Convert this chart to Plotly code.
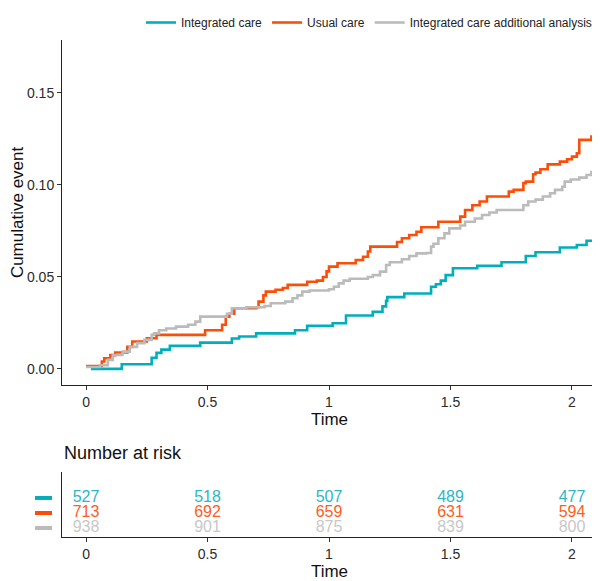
import plotly.graph_objects as go

# step curves (time in years, cumulative incidence)
ic_time = [0.02, 0.147, 0.27, 0.29, 0.31, 0.345, 0.47, 0.60, 0.63, 0.70, 0.86, 0.91, 1.015, 1.07,
           1.18, 1.22, 1.235, 1.24, 1.31, 1.42, 1.44, 1.46, 1.48, 1.51, 1.61, 1.71, 1.81, 1.85,
           1.95, 2.02, 2.06, 2.1]
ic_event = [0.0, 0.0025, 0.006, 0.0087, 0.0105, 0.0125, 0.0143, 0.0165, 0.0176, 0.0193, 0.021,
            0.0234, 0.0248, 0.029, 0.031, 0.034, 0.037, 0.039, 0.041, 0.0447, 0.046, 0.048, 0.051,
            0.0547, 0.056, 0.058, 0.0614, 0.0634, 0.066, 0.0674, 0.0697, 0.0697]

uc_time = [0.0, 0.065, 0.075, 0.10, 0.12, 0.17, 0.19, 0.25, 0.29, 0.49, 0.56, 0.575, 0.59, 0.61,
           0.70, 0.71, 0.73, 0.74, 0.78, 0.81, 0.83, 0.91, 0.95, 0.975, 0.99, 1.0, 1.035, 1.11,
           1.14, 1.16, 1.17, 1.28, 1.30, 1.33, 1.36, 1.38, 1.45, 1.54, 1.56, 1.59, 1.62, 1.65,
           1.74, 1.76, 1.80, 1.81, 1.84, 1.85, 1.87, 1.90, 1.95, 1.98, 2.0, 2.02, 2.03, 2.08,
           2.09, 2.1]
uc_event = [0.0016, 0.004, 0.0058, 0.0075, 0.0089, 0.012, 0.0149, 0.0167, 0.0185, 0.021, 0.024,
            0.0284, 0.030, 0.033, 0.0335, 0.0366, 0.040, 0.042, 0.043, 0.044, 0.0457, 0.0474,
            0.048, 0.050, 0.053, 0.0556, 0.0574, 0.0592, 0.061, 0.0638, 0.0665, 0.069, 0.071,
            0.0728, 0.0746, 0.077, 0.080, 0.0828, 0.0864, 0.089, 0.091, 0.0937, 0.0964, 0.0973,
            0.101, 0.1018, 0.1058, 0.1067, 0.1085, 0.1112, 0.1127, 0.114, 0.1154, 0.1172, 0.1245,
            0.1263, 0.127, 0.127]

ica_time = [0.0, 0.057, 0.09, 0.11, 0.15, 0.18, 0.21, 0.24, 0.27, 0.28, 0.30, 0.33, 0.37, 0.42,
            0.45, 0.47, 0.58, 0.60, 0.66, 0.735, 0.76, 0.82, 0.85, 0.87, 0.89, 0.92, 1.0, 1.02,
            1.04, 1.06, 1.085, 1.16, 1.18, 1.21, 1.235, 1.25, 1.30, 1.33, 1.36, 1.40, 1.42, 1.43,
            1.45, 1.475, 1.495, 1.54, 1.56, 1.60, 1.63, 1.66, 1.69, 1.80, 1.82, 1.85, 1.88, 1.91,
            1.93, 1.96, 1.97, 1.995, 2.03, 2.06, 2.08, 2.1]
ica_event = [0.001, 0.002, 0.0049, 0.0076, 0.0094, 0.012, 0.014, 0.0158, 0.0185, 0.0193, 0.021,
             0.022, 0.023, 0.024, 0.0257, 0.0284, 0.030, 0.033, 0.0335, 0.0342, 0.0357, 0.0366,
             0.0384, 0.040, 0.042, 0.0426, 0.0433, 0.0447, 0.0465, 0.048, 0.049, 0.050, 0.051,
             0.0529, 0.0565, 0.058, 0.0596, 0.0614, 0.0628, 0.063, 0.0665, 0.068, 0.071, 0.0737,
             0.0764, 0.078, 0.080, 0.0818, 0.0837, 0.085, 0.0864, 0.089, 0.091, 0.092, 0.0937,
             0.0955, 0.0973, 0.099, 0.1018, 0.103, 0.104, 0.1054, 0.107, 0.107]

groups = ['Integrated care', 'Usual care', 'Integrated care additional analysis']
line_colors = ['#00AFBB', '#FC4E07', '#BBBBBB']
text_colors = ['#2EB6C4', '#FC5E22', '#C8C8C8']

risk_times = [0, 0.5, 1, 1.5, 2]
risk_ic = [527, 518, 507, 489, 477]
risk_uc = [713, 692, 659, 631, 594]
risk_ica = [938, 901, 875, 839, 800]

time_ticks = [0, 0.5, 1, 1.5, 2]
time_labels = ['0', '0.5', '1', '1.5', '2']
event_ticks = [0, 0.05, 0.10, 0.15]
event_labels = ['0.00', '0.05', '0.10', '0.15']

fig = go.Figure()

curves = [(ic_time, ic_event), (uc_time, uc_event), (ica_time, ica_event)]
for name, color, (t, v) in zip(groups, line_colors, curves):
    fig.add_trace(go.Scatter(
        x=t, y=v, mode='lines', name=name,
        line=dict(color=color, width=2.6, shape='hv'),
        xaxis='x', yaxis='y'
    ))

risk_rows = [risk_ic, risk_uc, risk_ica]
row_pos = [3, 2, 1]
for name, lcol, tcol, row, pos in zip(groups, line_colors, text_colors, risk_rows, row_pos):
    fig.add_trace(go.Scatter(
        x=risk_times, y=[pos] * len(risk_times), mode='text',
        text=[str(n) for n in row], textposition='middle center',
        textfont=dict(color=tcol, size=16, family='Liberation Sans Narrow, Liberation Sans'),
        showlegend=False, hoverinfo='skip',
        xaxis='x2', yaxis='y2'
    ))
    # colored key in front of each row
    fig.add_shape(type='line', xref='paper', yref='y2',
                  x0=-0.0505, x1=-0.0187, y0=pos, y1=pos,
                  line=dict(color=lcol, width=4))

axis_font = dict(family='Liberation Sans', size=14, color='#2b2b2b')
title_font = dict(family='Liberation Sans', size=17, color='#111111')
common = dict(ticks='outside', ticklen=4, tickcolor='#333333', tickfont=axis_font,
              showline=True, linecolor='#222222', linewidth=1, showgrid=False, zeroline=False)

# page body adds an 8px offset, so the figure is 8px smaller than the window
fig.update_layout(
    width=592, height=573,
    margin=dict(l=54, r=3, t=32, b=44, autoexpand=False),
    plot_bgcolor='white', paper_bgcolor='white',
    font=dict(family='Liberation Sans'),
    legend=dict(orientation='h', x=1, xanchor='right', xref='paper',
                y=1, yanchor='top', yref='container',
                font=dict(size=12, color='#222222'), itemwidth=30),
    xaxis=dict(domain=[0, 1], range=[-0.099, 2.103], anchor='y',
               tickvals=time_ticks, ticktext=time_labels,
               title=dict(text='Time', font=title_font, standoff=3), **common),
    yaxis=dict(domain=[0.306, 1], range=[-0.0087, 0.1788], anchor='x',
               tickvals=event_ticks, ticktext=event_labels,
               title=dict(text='Cumulative event', font=title_font, standoff=4), **common),
    xaxis2=dict(domain=[0, 1], range=[-0.099, 2.103], anchor='y2',
                tickvals=time_ticks, ticktext=time_labels,
                title=dict(text='Time', font=title_font, standoff=2), **common),
    yaxis2=dict(domain=[0, 0.1308], range=[0.4, 4.73], anchor='x2',
                showticklabels=False, ticks='',
                showline=True, linecolor='#222222', linewidth=1, showgrid=False, zeroline=False),
    annotations=[dict(text='Number at risk', xref='paper', yref='paper', x=0, y=0.169,
                      xanchor='left', yanchor='middle', showarrow=False,
                      font=dict(family='Liberation Sans', size=18, color='#111111'))]
)

fig.write_html("out.html")
